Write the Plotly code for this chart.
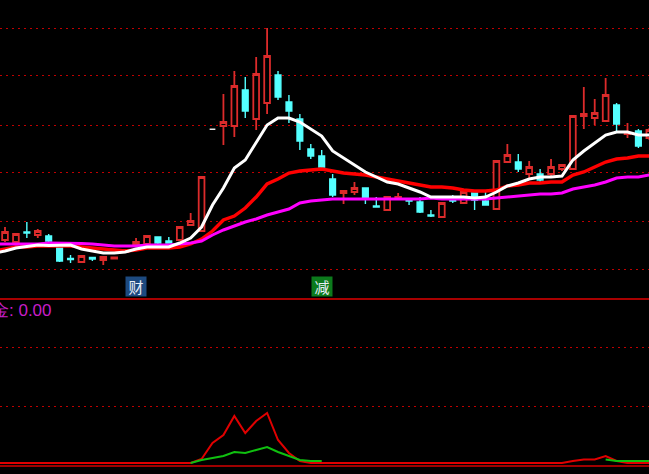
import plotly.graph_objects as go

days = list(range(60))
line_days = [-1] + days

# price scale: arbitrary units
is_up = [1,1,0,1,0,0,0,1,0,1,1,1,1,1,0,0,1,1,1,None,1,1,0,1,1,0,0,0,0,0,0,1,1,0,0,1,1,0,0,0,1,0,1,0,0,1,1,0,1,0,1,1,1,1,1,1,0,1,0,1]
high = [73,67,78,71,66,56,45,44,43,43,43,51,62,64,63,63,73,87,123,None,206,229,223,243,272,229,205,186,156,150,126,109,118,112,103,103,107,100,103,90,97,105,108,107,108,139,156,146,139,131,141,135,184,213,201,222,197,177,171,172]
body_top = [68,66,68,69,64,55,41.5,44,42.5,43,42.5,50,58,64,63,59,73,79,123,None,178,214,210,226,244,225,198,181,151,144,121,109,112,112,94,103,103,100,98,85,97,101,108,107,99,139,145,138,133,126,133,135,184,186,187,205,195,167,169,170]
body_bot = [60,58,67,65,59,39,40.5,38,41,40,41.5,48,55,56,57,57,60,75,69,None,174,174,189,181,197,203,189,159,144,133,105,107,108,102,93,90,101,99,88,84,83,99,97,100,95,91,138,131,126,120,126,131,131,184,182,179,176,166,154,162]
low = [58,57,62,62,57,38,37,38,39,35,41,47,54,55,56,57,59,74,69,None,155,163,182,170,186,200,177,150,141,132,103,96,105,96,93,90,100,95,87,83,83,97,96,90,95,91,137,128,122,118,123,129,130,171,175,179,169,162,152,160]
flat_day = [19]
flat_price = [170.7]

ma_white = [47,49,52,53.5,55,54.5,55,55,51,49,47,47,48,51,53,53,53,57,62,73,95,112,132,140,157,175,182,182,178,171,164,149,142,135,128,123,118,116,112,108,103,103,103,103,102,103,108,114,117,121,123,123,124,140,149,157,165,168,168,165,165]
ma_red = [49,51,53,53,54,54,54,54,53,52,51,50,49,50,52,52,52,53,56,61,69,80,84,92,103,116,121,127,129,130,131,129,127,126,125,123,121,119,117,115,113,113,112,110,109,109,110,114,115,117,117,118,118,125,128,133,138,141,142,144,144]
ma_magenta = [56,56,56,56,56,57,57,57,56.5,56,55,54,54,54,55,55,55,56,57,59,65,70,74,78,81,85,88,91,97,99,100,101,101,101,101,101,101,101,101,101,102,101,101,101,101,101,102,103,104,105,106,106,107,111,113,115,118,122,123,123,125]

sub_red = [3]*19 + [7,23,31,50,33,45,53,26,13,5] + [3]*24 + [5,6.5,6.5,10,5,3,3,3]
sub_green = [None]*18 + [3,6,8,10,14,13,16,19,14,10,6,5,5] + [None]*25 + [6.5,5,5,5,5]

price_grid = [272,225,175,128,79,31]
sub_grid = [119,60]
signals = ["财", "减"]
signal_days = [12, 29]
signal_colors = ["#1d4a80", "#0c7a1c"]
signal_price = 13.5
readout = "金: 0.00"

RED = "#dc2b2b"
CYAN = "#54ffff"
opens = [None if u is None else (b if u else t) for u, t, b in zip(is_up, body_top, body_bot)]
closes = [None if u is None else (t if u else b) for u, t, b in zip(is_up, body_top, body_bot)]

fig = go.Figure()
fig.add_trace(go.Candlestick(
    x=days, open=opens, high=high, low=low, close=closes,
    increasing=dict(line=dict(color=RED, width=1.8), fillcolor="#000000"),
    decreasing=dict(line=dict(color=CYAN, width=1.4), fillcolor=CYAN),
    whiskerwidth=0, xaxis="x", yaxis="y", showlegend=False))
fig.add_trace(go.Candlestick(
    x=flat_day, open=flat_price, high=flat_price, low=flat_price, close=flat_price,
    increasing=dict(line=dict(color="#e8e8e8", width=1.6), fillcolor="#e8e8e8"),
    whiskerwidth=0, xaxis="x", yaxis="y", showlegend=False))
for vals, col, w in [(ma_red, "#ff0000", 3.4), (ma_magenta, "#ff00ff", 3), (ma_white, "#ffffff", 3)]:
    fig.add_trace(go.Scatter(x=line_days, y=vals, mode="lines", line=dict(color=col, width=w),
                             xaxis="x", yaxis="y", showlegend=False))
fig.add_trace(go.Scatter(x=line_days, y=sub_red, mode="lines", line=dict(color="#e00000", width=2),
                         xaxis="x", yaxis="y2", showlegend=False))
fig.add_trace(go.Scatter(x=line_days, y=sub_green, mode="lines", line=dict(color="#10c010", width=2),
                         xaxis="x", yaxis="y2", showlegend=False))

annotations = [dict(x=d, y=signal_price, xref="x", yref="y", text=t, showarrow=False,
                    font=dict(family="Noto Sans CJK SC", size=15, color="#e8eef8"),
                    bgcolor=c, borderpad=0, width=20, height=19, align="center", valign="middle",
                    xanchor="center", yanchor="middle")
               for t, d, c in zip(signals, signal_days, signal_colors)]
annotations.append(dict(x=-0.016, y=0.345, xref="paper", yref="paper", text=readout, showarrow=False,
                        font=dict(family="Liberation Sans", size=17, color="#c81ec8"),
                        xanchor="left", yanchor="middle"))

SPLIT = 176 / 474
fig.update_layout(
    width=649, height=474, margin=dict(l=0, r=0, t=0, b=0), autosize=False,
    paper_bgcolor="#000000", plot_bgcolor="#000000", boxmode="overlay", boxgap=0.25,
    showlegend=False, annotations=annotations,
    xaxis=dict(range=[-0.458, 58.97], anchor="y", showgrid=False, zeroline=False,
               showticklabels=False, ticks="", rangeslider=dict(visible=False),
               showline=True, linecolor="#a80000", linewidth=1.5),
    yaxis=dict(domain=[SPLIT, 1], range=[2, 300], tickvals=price_grid, showticklabels=False, ticks="",
               showgrid=True, gridcolor="#c00000", griddash="2px,4px", gridwidth=1, zeroline=False),
    yaxis2=dict(domain=[0, SPLIT], range=[-8, 168], tickvals=sub_grid, showticklabels=False, ticks="",
                showgrid=True, gridcolor="#c00000", griddash="2px,4px", gridwidth=1,
                zeroline=True, zerolinecolor="#a00000", zerolinewidth=2),
)

fig.write_html("out.html", config=dict(displayModeBar=False),
               post_script="document.body.style.margin='0';document.body.style.overflow='hidden';document.body.style.background='#000';")
